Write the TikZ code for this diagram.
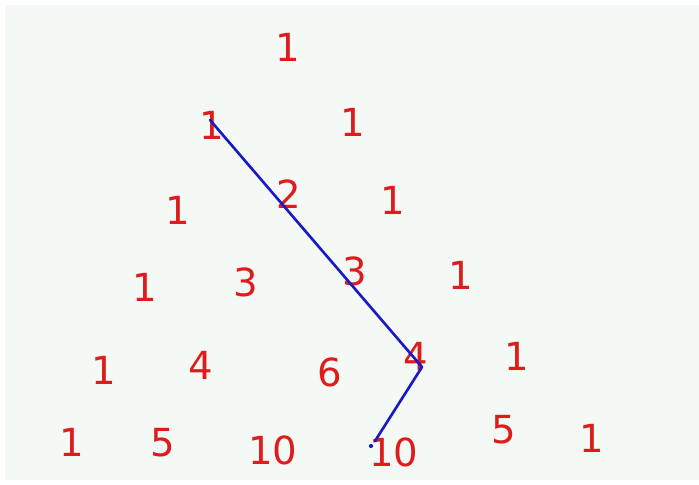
\documentclass[tikz,border=0pt]{standalone}
\usepackage{fontspec}
\setmainfont{DejaVu Sans}
\usetikzlibrary{positioning}

\definecolor{board}{RGB}{245,249,245}
\definecolor{penred}{RGB}{222,28,28}
\definecolor{penblue}{RGB}{25,25,200}

\begin{document}
\begin{tikzpicture}[x=0.02cm, y=-0.02cm,
    num/.style={text=penred, font=\fontsize{22}{22}\selectfont, inner sep=0pt},
    stick/.style={penblue, line width=1.5pt, line join=round, line cap=round}]
    \useasboundingbox (0,0) rectangle (699,484);
    \fill[white] (0,0) rectangle (699,484);
    \fill[board] (5,5) rectangle (699,480);

    % row 0
    \node[num] (a0) at (288,47) {1};
    % row 1
    \node[num] (b0) at (212,125) {1};
    \node[num] (b1) at (353,122) {1};
    % row 2
    \node[num] (c0) at (178,210) {1};
    \node[num] (c1) at (289,194) {2};
    \node[num] (c2) at (393,200) {1};
    % row 3
    \node[num] (d0) at (145,287) {1};
    \node[num] (d1) at (246,282) {3};
    \node[num] (d2) at (355,271) {3};
    \node[num] (d3) at (461,275) {1};
    % row 4
    \node[num] (e0) at (104,370) {1};
    \node[num] (e1) at (201,365) {4};
    \node[num] (e2) at (330,372) {6};
    \node[num] (e3) at (416,356) {4};
    \node[num] (e4) at (517,356) {1};
    % row 5
    \node[num] (f0) at (72,442) {1};
    \node[num] (f1) at (163,443) {5};
    \node[num] (f2) at (273,450) {10};
    \node[num] (f3) at (394,452) {10};
    \node[num] (f4) at (504,430) {5};
    \node[num] (f5) at (592,438) {1};

    % hockey stick
    \coordinate (hs) at (210,120);
    \coordinate (hk) at (422,367);
    \coordinate (he) at (375,441);
    \draw[stick] (hs) -- (hk) -- (he);
    \fill[penblue] (371,446) circle (1.2pt);
\end{tikzpicture}
\end{document}
